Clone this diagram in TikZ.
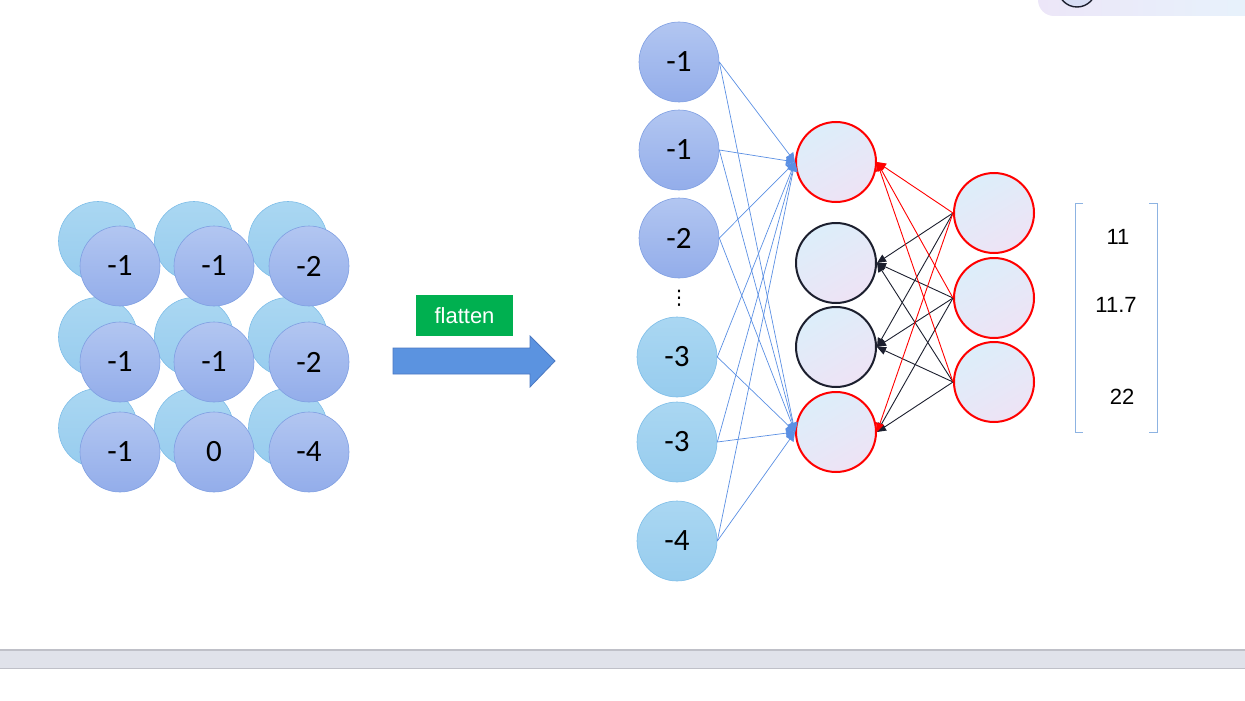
\documentclass[tikz,border=0pt]{standalone}
\usepackage{fontspec}
\setmainfont{Liberation Sans}
\newfontfamily\calib{Carlito}
\newfontfamily\dejavu{DejaVu Sans}
\usepackage{xcolor}
\usepackage{tikz}
\usetikzlibrary{arrows.meta, positioning}

\definecolor{skyA}{HTML}{AAD7F2}
\definecolor{skyB}{HTML}{97CCEE}
\definecolor{skyline}{HTML}{7DBDE8}
\definecolor{periA}{HTML}{B2C6F1}
\definecolor{periB}{HTML}{93ADEA}
\definecolor{periline}{HTML}{7F9FE2}
\definecolor{cellA}{HTML}{DCEEFA}
\definecolor{cellB}{HTML}{EEE3F5}
\definecolor{wireblue}{HTML}{5A8FE3}
\definecolor{darkline}{HTML}{1C1F2E}
\definecolor{flatgreen}{HTML}{00B050}
\definecolor{arrowblue}{HTML}{5B93E0}
\definecolor{arrowedge}{HTML}{4A78C2}
\definecolor{bracketblue}{HTML}{8DB3E2}
\definecolor{barfill}{HTML}{E0E2EA}
\definecolor{barline}{HTML}{BFC0C8}
\definecolor{boxA}{HTML}{ECE6F8}
\definecolor{boxB}{HTML}{E6F4FC}
\definecolor{knob}{HTML}{D8DEF5}

\newcommand\cellfont{\calib\fontsize{31}{31}\selectfont}
\newcommand\vecfont{\fontsize{22}{22}\selectfont}

\begin{document}
\begin{tikzpicture}[
    x=1pt, y=-1pt,
    back/.style={circle, draw=skyline, top color=skyA, bottom color=skyB, line width=0.6pt, minimum size=79pt, inner sep=0pt},
    cell/.style={circle, draw=#1line, top color=#1A, bottom color=#1B, line width=0.6pt, minimum size=80pt, inner sep=0pt, font=\cellfont},
    neuron/.style={circle, draw=#1, line width=2pt, top color=cellA, bottom color=cellB, shading angle=30, minimum size=80pt, inner sep=0pt},
    inwire/.style={-{Triangle[length=9pt, width=9pt]}, wireblue, line width=0.7pt},
    outwire/.style={-{Triangle[length=9pt, width=8pt]}, #1, line width=0.9pt},
]
    \useasboundingbox (0,0) rectangle (1245,701);

    % Top right panel (cut off)
    \begin{scope}
        \clip (0,0) rectangle (1245,701);
        \draw[draw=none, left color=boxA, right color=boxB, rounded corners=16pt] (1038,-40) rectangle (1290,16);
        \draw[darkline, fill=knob, line width=1.4pt] (1077,-12) circle (19);
    \end{scope}

    % Grid: back layer
    \node[back] (b11) at (98,241) {};
    \node[back] (b12) at (194,241) {};
    \node[back] (b13) at (288,241) {};
    \node[back] (b21) at (98,337) {};
    \node[back] (b22) at (194,337) {};
    \node[back] (b23) at (288,337) {};
    \node[back] (b31) at (98,428) {};
    \node[back] (b32) at (194,428) {};
    \node[back] (b33) at (288,428) {};

    % Grid: front layer
    \node[cell=peri] (g11) at (120,266) {-1};
    \node[cell=peri] (g12) at (214,266) {-1};
    \node[cell=peri] (g13) at (309,266) {-2};
    \node[cell=peri] (g21) at (120,362) {-1};
    \node[cell=peri] (g22) at (214,362) {-1};
    \node[cell=peri] (g23) at (309,362) {-2};
    \node[cell=peri] (g31) at (120,452) {-1};
    \node[cell=peri] (g32) at (214,452) {0};
    \node[cell=peri] (g33) at (309,452) {-4};

    % Flatten arrow
    \node[fill=flatgreen, text=white, minimum width=97pt, minimum height=41pt, inner sep=0pt, font=\vecfont] (flat) at (464.5,315.5) {flatten};
    \draw[fill=arrowblue, draw=arrowedge, line width=0.8pt] (393,348) -- (530,348) -- (530,336) -- (555,361) -- (530,387) -- (530,374) -- (393,374) -- cycle;

    % Input column
    \node[cell=peri] (in1) at (679,62) {-1};
    \node[cell=peri] (in2) at (679,150) {-1};
    \node[cell=peri] (in3) at (679,238) {-2};
    \node[font=\dejavu\fontsize{20}{20}\selectfont, inner sep=0pt] (vd) at (679,298) {⋮};
    \node[cell=sky] (in4) at (677,357) {-3};
    \node[cell=sky] (in5) at (677,442) {-3};
    \node[cell=sky] (in6) at (677,541) {-4};

    % Hidden layer
    \node[neuron=red] (h1) at (836,162) {};
    \node[neuron=darkline, below=19pt of h1] (h2) {};
    \node[neuron=darkline, below=2pt of h2] (h3) {};
    \node[neuron=red, below=3pt of h3] (h4) {};

    % Right layer
    \node[neuron=red] (o1) at (994,213) {};
    \node[neuron=red, below=3pt of o1] (o2) {};
    \node[neuron=red, below=2pt of o2] (o3) {};

    % Inputs to hidden
    \draw[inwire] (in1.east) -- (h1.west);
    \draw[inwire] (in2.east) -- (h1.west);
    \draw[inwire] (in3.east) -- (h1.west);
    \draw[inwire] (in4.east) -- (h1.west);
    \draw[inwire] (in5.east) -- (h1.west);
    \draw[inwire] (in6.east) -- (h1.west);
    \draw[inwire] (in1.east) -- (h4.west);
    \draw[inwire] (in2.east) -- (h4.west);
    \draw[inwire] (in3.east) -- (h4.west);
    \draw[inwire] (in4.east) -- (h4.west);
    \draw[inwire] (in5.east) -- (h4.west);
    \draw[inwire] (in6.east) -- (h4.west);

    % Right layer back to hidden
    \draw[outwire=darkline] (o1.west) -- (h2.east);
    \draw[outwire=darkline] (o2.west) -- (h2.east);
    \draw[outwire=darkline] (o3.west) -- (h2.east);
    \draw[outwire=darkline] (o1.west) -- (h3.east);
    \draw[outwire=darkline] (o2.west) -- (h3.east);
    \draw[outwire=darkline] (o3.west) -- (h3.east);
    \draw[outwire=darkline] (o2.west) -- (h4.east);
    \draw[outwire=darkline] (o3.west) -- (h4.east);
    \draw[outwire=red] (o1.west) -- (h4.east);
    \draw[outwire=red] (o1.west) -- (h1.east);
    \draw[outwire=red] (o2.west) -- (h1.east);
    \draw[outwire=red] (o3.west) -- (h1.east);

    % Output vector
    \node[font=\vecfont] (n1) at (1118,237) {11};
    \node[font=\vecfont] (n2) at (1116,305) {11.7};
    \node[font=\vecfont] (n3) at (1122,397) {22};
    \draw[bracketblue, line width=0.9pt] (1083,203) -- (1075,203) -- (1075,432) -- (1083,432);
    \draw[bracketblue, line width=0.9pt] (1149,203) -- (1157,203) -- (1157,432) -- (1149,432);

    % Bottom bar
    \fill[barfill] (0,650) rectangle (1245,668);
    \draw[barline, line width=1.2pt] (0,650) -- (1245,650);
    \draw[barline, line width=0.8pt] (0,668) -- (1245,668);
\end{tikzpicture}
\end{document}
